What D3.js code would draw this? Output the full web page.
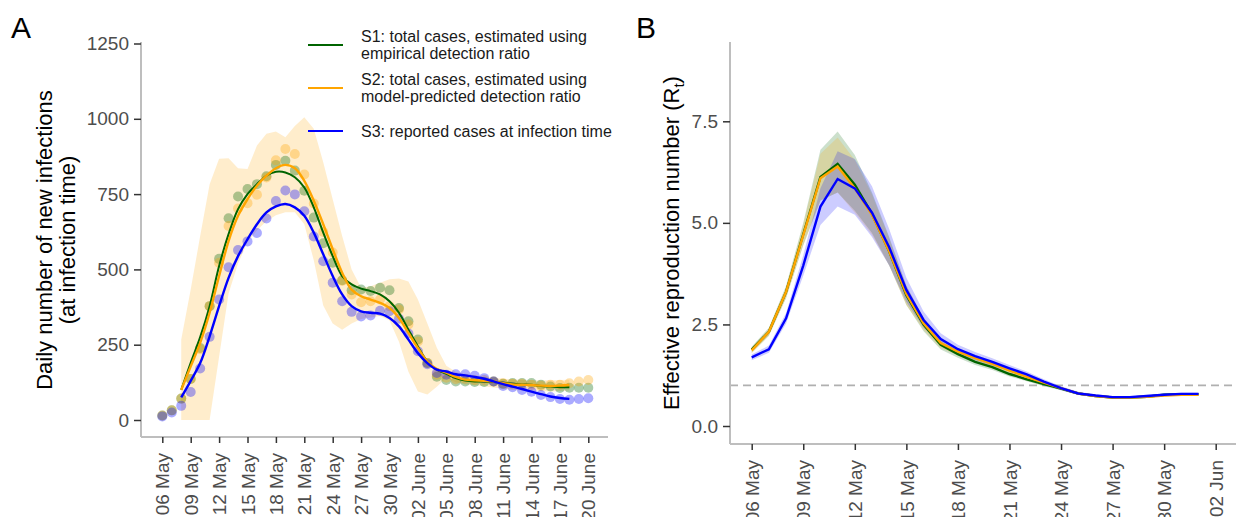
<!DOCTYPE html>
<html>
<head>
<meta charset="utf-8">
<script src="https://cdn.jsdelivr.net/npm/d3@7"></script>
<style>
  body { margin: 0; background: #fff; }
  svg text { font-family: "Liberation Sans", Arial, sans-serif; }
</style>
</head>
<body>
<div id="root"></div>
<script>
const width = 1236;
const height = 517;

// ---- panel A: daily infections, 06 May (day 0) .. 20 June (day 45)
const s1Dots = [15, 32, 71, 136, 239, 378, 535, 670, 742, 767, 783, 809, 847, 861, 828, 761, 672, 587, 522, 464, 431, 433, 428, 439, 431, 372, 328, 267, 189, 144, 133, 128, 128, 126, 126, 128, 120, 123, 123, 123, 117, 111, 106, 107, 107, 107];
const s2Dots = [15, 32, 71, 136, 235, 378, 522, 644, 702, 720, 748, 805, 862, 900, 883, 815, 719, 624, 556, 462, 417, 391, 394, 400, 378, 367, 317, 261, 189, 150, 140, 135, 137, 133, 133, 128, 122, 120, 120, 117, 113, 117, 117, 122, 128, 133];
const s3Dots = [12, 25, 47, 93, 171, 276, 400, 507, 564, 593, 621, 669, 727, 762, 749, 693, 609, 527, 456, 394, 359, 344, 347, 363, 361, 336, 287, 228, 185, 156, 150, 152, 152, 147, 139, 128, 113, 109, 100, 94, 83, 76, 70, 67, 70, 72];

// smoothed lines and S2 interval, day 2 .. day 43
const lineStart = 2;
const s1Line = [100, 190, 275, 378, 511, 617, 700, 750, 783, 811, 824, 822, 806, 772, 706, 622, 544, 478, 450, 436, 428, 417, 394, 356, 300, 244, 194, 167, 153, 139, 131, 128, 128, 126, 124, 120, 118, 117, 113, 111, 109, 109];
const s2Line = [100, 178, 256, 356, 478, 594, 678, 733, 778, 811, 836, 847, 836, 794, 728, 650, 567, 489, 433, 411, 400, 389, 372, 339, 289, 239, 194, 169, 157, 143, 134, 132, 130, 128, 122, 118, 117, 116, 114, 113, 114, 116];
const s3Line = [75, 130, 189, 278, 378, 472, 544, 600, 650, 689, 709, 717, 706, 678, 622, 550, 478, 417, 378, 361, 356, 353, 339, 311, 267, 222, 189, 167, 161, 152, 148, 143, 137, 128, 119, 111, 103, 94, 86, 78, 73, 70];
const s2Low = [0, 0, 0, 0, 210, 420, 520, 590, 630, 660, 680, 690, 690, 650, 530, 380, 320, 300, 320, 335, 340, 345, 330, 260, 160, 95, 85, 110, 140, 125, 118, 115, 112, 108, 104, 100, 98, 97, 96, 95, 96, 98];
const s2High = [267, 433, 611, 783, 867, 869, 836, 833, 911, 950, 958, 939, 976, 1005, 967, 856, 733, 611, 500, 439, 444, 456, 467, 470, 460, 400, 320, 240, 180, 160, 150, 145, 142, 140, 137, 135, 133, 132, 132, 132, 133, 134];

const tickDaysA = [0, 3, 6, 9, 12, 15, 18, 21, 24, 27, 30, 33, 36, 39, 42, 45];
const tickLabelsA = ["06 May", "09 May", "12 May", "15 May", "18 May", "21 May", "24 May", "27 May", "30 May", "02 June", "05 June", "08 June", "11 June", "14 June", "17 June", "20 June"];
const yTicksA = [0, 250, 500, 750, 1000, 1250];

const seriesColors = ["#006400", "#FFA500", "#0000FF"];
const legendLines = [
  ["S1: total cases, estimated using", "empirical detection ratio"],
  ["S2: total cases, estimated using", "model-predicted detection ratio"],
  ["S3: reported cases at infection time"]
];

// ---- panel B: effective reproduction number, 06 May (day 0) .. 01 June (day 26)
const rS1 = [1.88, 2.32, 3.30, 4.72, 6.13, 6.45, 5.94, 5.22, 4.30, 3.22, 2.50, 2.00, 1.77, 1.58, 1.45, 1.28, 1.15, 1.03, 0.92, 0.80, 0.74, 0.70, 0.70, 0.72, 0.77, 0.78, 0.78];
const rS2 = [1.86, 2.32, 3.30, 4.70, 6.10, 6.39, 5.85, 5.20, 4.30, 3.25, 2.53, 2.04, 1.83, 1.67, 1.53, 1.36, 1.21, 1.07, 0.93, 0.80, 0.74, 0.70, 0.70, 0.72, 0.75, 0.77, 0.77];
const rS3 = [1.69, 1.89, 2.65, 3.95, 5.40, 6.08, 5.85, 5.25, 4.40, 3.35, 2.61, 2.14, 1.89, 1.72, 1.58, 1.42, 1.27, 1.09, 0.93, 0.80, 0.75, 0.71, 0.71, 0.74, 0.77, 0.79, 0.79];
const rS1Low = [1.80, 2.22, 3.15, 4.45, 5.55, 5.75, 5.30, 4.75, 3.95, 2.98, 2.33, 1.88, 1.68, 1.50, 1.38, 1.22, 1.10, 0.98, 0.88, 0.77, 0.71, 0.67, 0.67, 0.69, 0.74, 0.75, 0.75];
const rS1High = [1.95, 2.42, 3.45, 5.00, 6.80, 7.25, 6.67, 5.75, 4.65, 3.45, 2.65, 2.10, 1.85, 1.65, 1.51, 1.33, 1.19, 1.07, 0.95, 0.83, 0.77, 0.73, 0.73, 0.75, 0.80, 0.81, 0.81];
const rS2Low = [1.79, 2.22, 3.15, 4.45, 5.55, 5.75, 5.25, 4.70, 3.95, 2.98, 2.37, 1.92, 1.74, 1.60, 1.46, 1.30, 1.16, 1.03, 0.90, 0.77, 0.71, 0.67, 0.67, 0.69, 0.72, 0.74, 0.74];
const rS2High = [1.93, 2.40, 3.42, 4.95, 6.70, 7.10, 6.55, 5.70, 4.62, 3.45, 2.67, 2.13, 1.90, 1.73, 1.59, 1.41, 1.25, 1.10, 0.96, 0.83, 0.77, 0.73, 0.73, 0.75, 0.78, 0.80, 0.80];
const rS3Low = [1.62, 1.80, 2.52, 3.70, 4.95, 5.40, 5.20, 4.65, 3.95, 3.05, 2.42, 2.01, 1.78, 1.62, 1.49, 1.34, 1.20, 1.03, 0.88, 0.76, 0.72, 0.68, 0.68, 0.71, 0.74, 0.76, 0.76];
const rS3High = [1.76, 1.98, 2.78, 4.20, 5.85, 6.76, 6.57, 5.90, 4.85, 3.65, 2.82, 2.28, 2.00, 1.82, 1.67, 1.50, 1.34, 1.15, 0.98, 0.84, 0.78, 0.74, 0.74, 0.77, 0.80, 0.82, 0.82];

const tickDaysB = [0, 3, 6, 9, 12, 15, 18, 21, 24, 27];
const tickLabelsB = ["06 May", "09 May", "12 May", "15 May", "18 May", "21 May", "24 May", "27 May", "30 May", "02 Jun"];
const yTicksB = [0, 2.5, 5, 7.5];
const thresholdB = 1;

let svg = d3
  .select("#root")
  .append("svg")
  .attr("width", width)
  .attr("height", height);

function styleAxis(g) {
  g.select(".domain").remove();
  g.selectAll(".tick line").attr("stroke", "#333").attr("stroke-width", 1.5);
  g.selectAll(".tick text").attr("fill", "#4D4D4D").style("font-size", "19px");
}

function rotateLabels(g) {
  g.selectAll(".tick text")
    .attr("transform", "rotate(-90)")
    .attr("x", -16)
    .attr("y", 0)
    .attr("dy", "0.35em")
    .style("text-anchor", "end");
}

// ================= panel A =================
const xA = d3.scaleLinear().domain([0, 45]).range([162.3, 588.3]);
const yA = d3.scaleLinear().domain([0, 1250]).range([420, 43.5]);

let gA = svg.append("g");

let ribbon = s2Low.map((d, i) => [d, s2High[i]]);
gA.append("path")
  .datum(ribbon)
  .attr("fill", "#FFA500")
  .attr("fill-opacity", 0.2)
  .attr("d", d3.area()
    .x((d, i) => xA(i + lineStart))
    .y0((d) => yA(d[0]))
    .y1((d) => yA(d[1])));

[s1Dots, s2Dots, s3Dots].forEach((dots, k) => {
  gA.append("g")
    .selectAll("circle")
    .data(dots)
    .enter()
    .append("circle")
    .attr("cx", (d, i) => xA(i))
    .attr("cy", (d) => yA(d))
    .attr("r", 5)
    .attr("fill", seriesColors[k])
    .attr("fill-opacity", 0.33);
});

let smooth = d3.line()
  .x((d, i) => xA(i + lineStart))
  .y((d) => yA(d))
  .curve(d3.curveCatmullRom);

[s1Line, s2Line, s3Line].forEach((line, k) => {
  gA.append("path")
    .datum(line)
    .attr("fill", "none")
    .attr("stroke", seriesColors[k])
    .attr("stroke-width", k === 0 ? 2 : 2.4)
    .attr("d", smooth);
});

// axis lines
gA.append("line").attr("x1", 141).attr("x2", 608).attr("y1", 437).attr("y2", 437)
  .attr("stroke", "#BEBEBE").attr("stroke-width", 2);
gA.append("line").attr("x1", 141).attr("x2", 141).attr("y1", 42).attr("y2", 437)
  .attr("stroke", "#BEBEBE").attr("stroke-width", 2);

gA.append("g")
  .attr("transform", "translate(0,437)")
  .call(d3.axisBottom(xA).tickValues(tickDaysA).tickFormat((d, i) => tickLabelsA[i]).tickSize(6))
  .call(styleAxis)
  .call(rotateLabels);

gA.append("g")
  .attr("transform", "translate(141,0)")
  .call(d3.axisLeft(yA).tickValues(yTicksA).tickFormat(d3.format("d")).tickSize(7).tickPadding(5))
  .call(styleAxis);

gA.append("text")
  .attr("transform", "translate(52,240) rotate(-90)")
  .attr("text-anchor", "middle")
  .style("font-size", "22px")
  .text("Daily number of new infections");
gA.append("text")
  .attr("transform", "translate(75,240) rotate(-90)")
  .attr("text-anchor", "middle")
  .style("font-size", "22px")
  .text("(at infection time)");

gA.append("text").attr("x", 11).attr("y", 38).style("font-size", "30px").text("A");

// legend
const legendY = [45, 88, 131];
legendLines.forEach((lines, k) => {
  gA.append("line")
    .attr("x1", 308).attr("x2", 343)
    .attr("y1", legendY[k]).attr("y2", legendY[k])
    .attr("stroke", seriesColors[k]).attr("stroke-width", 2.2);
  let top = legendY[k] - (lines.length - 1) * 8.5;
  lines.forEach((t, j) => {
    gA.append("text")
      .attr("x", 361)
      .attr("y", top + j * 17)
      .attr("dy", "0.35em")
      .style("font-size", "16px")
      .attr("fill", "#1a1a1a")
      .text(t);
  });
});

// ================= panel B =================
const xB = d3.scaleLinear().domain([0, 27]).range([751.7, 1215.7]);
const yB = d3.scaleLinear().domain([0, 7.5]).range([426, 121.3]);

let gB = svg.append("g");

gB.append("line")
  .attr("x1", 730).attr("x2", 1236)
  .attr("y1", yB(thresholdB)).attr("y2", yB(thresholdB))
  .attr("stroke", "#B0B0B0").attr("stroke-width", 1.6)
  .attr("stroke-dasharray", "8,5");

let bandB = d3.area()
  .x((d, i) => xB(i))
  .y0((d) => yB(d[0]))
  .y1((d) => yB(d[1]));

[[rS1Low, rS1High], [rS2Low, rS2High], [rS3Low, rS3High]].forEach((b, k) => {
  gB.append("path")
    .datum(b[0].map((d, i) => [d, b[1][i]]))
    .attr("fill", seriesColors[k])
    .attr("fill-opacity", 0.2)
    .attr("d", bandB);
});

let lineB = d3.line().x((d, i) => xB(i)).y((d) => yB(d));
[rS1, rS2, rS3].forEach((r, k) => {
  gB.append("path")
    .datum(r)
    .attr("fill", "none")
    .attr("stroke", seriesColors[k])
    .attr("stroke-width", 2.4)
    .attr("d", lineB);
});

gB.append("line").attr("x1", 730).attr("x2", 1236).attr("y1", 444).attr("y2", 444)
  .attr("stroke", "#BEBEBE").attr("stroke-width", 2);
gB.append("line").attr("x1", 730).attr("x2", 730).attr("y1", 42).attr("y2", 444)
  .attr("stroke", "#BEBEBE").attr("stroke-width", 2);

gB.append("g")
  .attr("transform", "translate(0,444)")
  .call(d3.axisBottom(xB).tickValues(tickDaysB).tickFormat((d, i) => tickLabelsB[i]).tickSize(6))
  .call(styleAxis)
  .call(rotateLabels);

gB.append("g")
  .attr("transform", "translate(730,0)")
  .call(d3.axisLeft(yB).tickValues(yTicksB).tickFormat(d3.format(".1f")).tickSize(7).tickPadding(5))
  .call(styleAxis);

let titleB = gB.append("text")
  .attr("transform", "translate(679,243) rotate(-90)")
  .attr("text-anchor", "middle")
  .style("font-size", "22px");
titleB.append("tspan").text("Effective reproduction number (R");
titleB.append("tspan").attr("dy", 5).style("font-size", "15px").text("t");
titleB.append("tspan").attr("dy", -5).text(")");

gB.append("text").attr("x", 636).attr("y", 38).style("font-size", "30px").text("B");
</script>
</body>
</html>
